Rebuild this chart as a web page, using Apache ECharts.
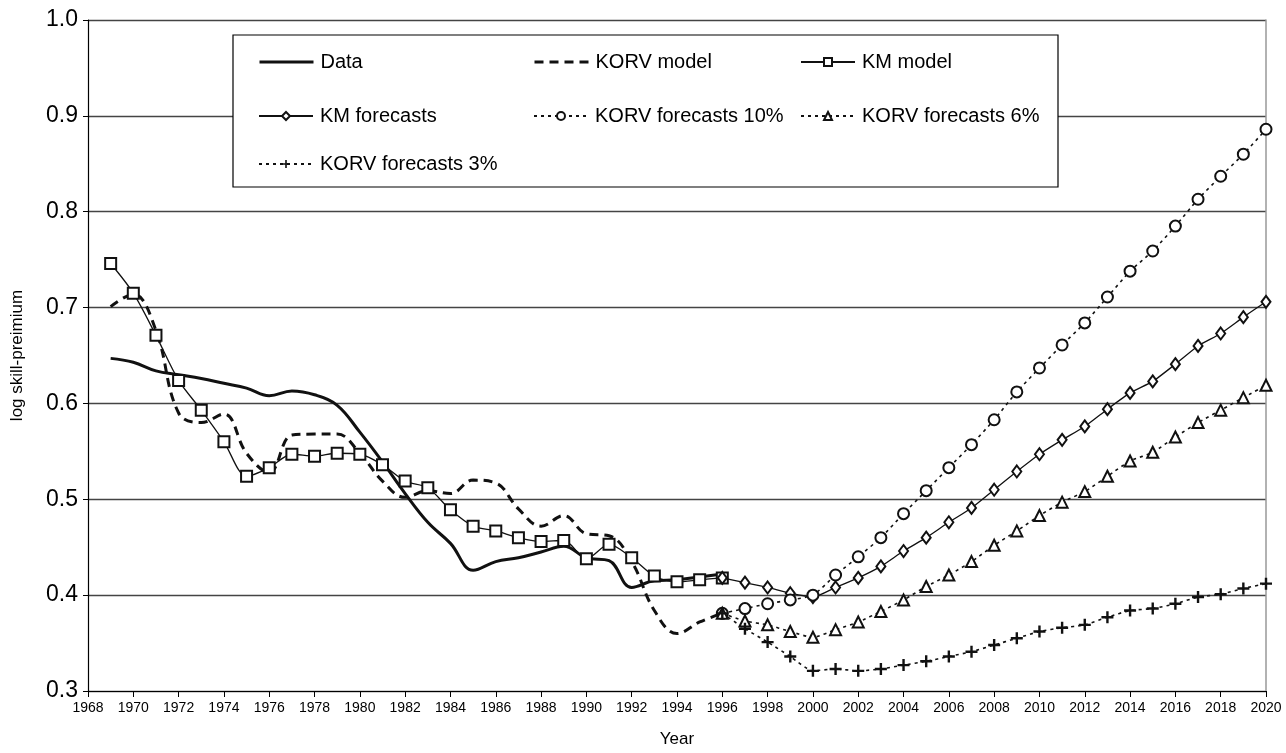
<!DOCTYPE html>
<html>
<head>
<meta charset="utf-8">
<script src="https://cdn.jsdelivr.net/npm/echarts@6/dist/echarts.min.js"></script>
<style>
  html, body { margin: 0; padding: 0; background: #fff; }
  #main { width: 1286px; height: 753px; }
</style>
</head>
<body>
<div id="main"></div>
<script>
// years
var histYears = [1969, 1970, 1971, 1972, 1973, 1974, 1975, 1976, 1977, 1978, 1979, 1980, 1981, 1982,
  1983, 1984, 1985, 1986, 1987, 1988, 1989, 1990, 1991, 1992, 1993, 1994, 1995, 1996];
var fcYears = [1996, 1997, 1998, 1999, 2000, 2001, 2002, 2003, 2004, 2005, 2006, 2007, 2008,
  2009, 2010, 2011, 2012, 2013, 2014, 2015, 2016, 2017, 2018, 2019, 2020];

// historical series
var dataVals = [0.647, 0.643, 0.634, 0.630, 0.626, 0.621, 0.616, 0.608, 0.613, 0.609, 0.598, 0.570, 0.539, 0.506,
  0.476, 0.454, 0.426, 0.435, 0.439, 0.445, 0.451, 0.439, 0.436, 0.408, 0.415, 0.416, 0.419, 0.422];
var korvModel = [0.701, 0.714, 0.676, 0.590, 0.580, 0.589, 0.548, 0.528, 0.567, 0.568, 0.568, 0.548, 0.519, 0.502,
  0.509, 0.506, 0.520, 0.517, 0.490, 0.472, 0.483, 0.464, 0.462, 0.435, 0.384, 0.360, 0.372, 0.381];
var kmModel = [0.746, 0.715, 0.671, 0.624, 0.593, 0.560, 0.524, 0.533, 0.547, 0.545, 0.548, 0.547, 0.536, 0.519,
  0.512, 0.489, 0.472, 0.467, 0.460, 0.456, 0.457, 0.438, 0.453, 0.439, 0.420, 0.414, 0.416, 0.418];

// forecasts
var kmFc = [0.418, 0.413, 0.408, 0.402, 0.398, 0.408, 0.418, 0.430, 0.446, 0.460, 0.476, 0.491, 0.510,
  0.529, 0.547, 0.562, 0.576, 0.594, 0.611, 0.623, 0.641, 0.660, 0.673, 0.690, 0.706];
var korv10 = [0.381, 0.386, 0.391, 0.395, 0.400, 0.421, 0.440, 0.460, 0.485, 0.509, 0.533, 0.557, 0.583,
  0.612, 0.637, 0.661, 0.684, 0.711, 0.738, 0.759, 0.785, 0.813, 0.837, 0.860, 0.886];
var korv6 = [0.381, 0.373, 0.369, 0.362, 0.356, 0.364, 0.372, 0.383, 0.395, 0.409, 0.421, 0.435, 0.452,
  0.467, 0.483, 0.497, 0.508, 0.524, 0.540, 0.549, 0.565, 0.580, 0.593, 0.606, 0.619];
var korv3 = [0.381, 0.365, 0.351, 0.336, 0.321, 0.323, 0.321, 0.323, 0.327, 0.331, 0.336, 0.341, 0.348,
  0.355, 0.362, 0.366, 0.369, 0.377, 0.384, 0.386, 0.391, 0.398, 0.401, 0.407, 0.412];

var names = ['Data', 'KORV model', 'KM model', 'KM forecasts',
  'KORV forecasts 10%', 'KORV forecasts 6%', 'KORV forecasts 3%'];

function pairs(xs, ys) {
  return xs.map(function (x, i) { return [x, ys[i]]; });
}

var font = 'Liberation Sans';
var ink = '#111';
var plusPath = 'path://M4,0H6V4H10V6H6V10H4V6H0V4H4Z';
var fcDash = [3, 4];

// legend slots: [name, left, rowCenter, thick line without symbol]
var legendSlots = [
  [names[0], 258, 63, true], [names[1], 533, 63, true], [names[2], 800, 63],
  [names[3], 258, 117], [names[4], 533, 117], [names[5], 800, 117],
  [names[6], 258, 165]
];

var legends = legendSlots.map(function (s) {
  var item = { name: s[0] };
  if (s[3]) {
    item.itemStyle = { opacity: 0 };
    item.lineStyle = { width: 3 };
  }
  return {
    data: [item],
    left: s[1],
    top: s[2] - 11,
    padding: 0,
    itemWidth: 54,
    itemHeight: 10,
    itemGap: 0,
    z: 10,
    textStyle: { fontFamily: font, fontSize: 20, color: '#000', padding: [0, 0, 0, 2] }
  };
});

function marker(extra) {
  var s = { color: ink, borderColor: ink, borderWidth: 1.5 };
  for (var k in extra) s[k] = extra[k];
  return s;
}

var option = {
  animation: false,
  backgroundColor: '#fff',
  grid: { left: 88, right: 20, top: 20, bottom: 62 },
  legend: legends,
  graphic: [{
    type: 'rect',
    z: 5,
    shape: { x: 233, y: 35, width: 825, height: 152 },
    style: { fill: '#fff', stroke: '#000', lineWidth: 1.2 }
  }],
  xAxis: {
    type: 'value',
    min: 1968,
    max: 2020,
    interval: 2,
    name: 'Year',
    nameLocation: 'middle',
    nameGap: 40,
    nameTextStyle: { fontFamily: font, fontSize: 17, color: '#000' },
    axisLine: { lineStyle: { color: '#000', width: 1.2 } },
    axisTick: { length: 6, lineStyle: { color: '#000' } },
    axisLabel: {
      fontFamily: font, fontSize: 14, color: '#000', margin: 10,
      formatter: function (v) { return String(v); }
    },
    splitLine: { show: false }
  },
  yAxis: [{
    type: 'value',
    min: 0.3,
    max: 1.0,
    interval: 0.1,
    name: 'log skill-preimium',
    nameLocation: 'middle',
    nameGap: 62,
    nameTextStyle: { fontFamily: font, fontSize: 17, color: '#000' },
    axisLine: { show: true, lineStyle: { color: '#000', width: 1.2 } },
    axisTick: { show: true, length: 5, lineStyle: { color: '#000' } },
    axisLabel: {
      fontFamily: font, fontSize: 23, color: '#000', margin: 10,
      formatter: function (v) { return v.toFixed(1); }
    },
    splitLine: { lineStyle: { color: '#444', width: 1.3 } }
  }, {
    type: 'value',
    position: 'right',
    min: 0.3,
    max: 1.0,
    interval: 0.1,
    axisLine: { show: true, lineStyle: { color: '#999', width: 1.5 } },
    axisTick: { show: false },
    axisLabel: { show: false },
    splitLine: { show: false }
  }],
  series: [{
    name: names[0],
    type: 'line',
    data: pairs(histYears, dataVals),
    smooth: 0.4,
    symbol: 'none',
    lineStyle: { color: ink, width: 3 },
    itemStyle: { color: ink },
    z: 3
  }, {
    name: names[1],
    type: 'line',
    data: pairs(histYears, korvModel),
    smooth: 0.4,
    symbol: 'none',
    lineStyle: { color: ink, width: 3, type: [9, 6] },
    itemStyle: { color: ink },
    z: 3
  }, {
    name: names[2],
    type: 'line',
    data: pairs(histYears, kmModel),
    smooth: 0.3,
    symbol: 'emptyRect',
    symbolSize: 11,
    lineStyle: { color: ink, width: 1.3 },
    itemStyle: marker({}),
    z: 4
  }, {
    name: names[3],
    type: 'line',
    data: pairs(fcYears, kmFc),
    smooth: 0.2,
    symbol: 'emptyDiamond',
    symbolSize: [9, 12],
    lineStyle: { color: ink, width: 1.3 },
    itemStyle: marker({}),
    z: 4
  }, {
    name: names[4],
    type: 'line',
    data: pairs(fcYears, korv10),
    smooth: 0.2,
    symbol: 'emptyCircle',
    symbolSize: 11,
    lineStyle: { color: ink, width: 1.6, type: fcDash },
    itemStyle: marker({}),
    z: 4
  }, {
    name: names[5],
    type: 'line',
    data: pairs(fcYears, korv6),
    smooth: 0.2,
    symbol: 'emptyTriangle',
    symbolSize: 11,
    lineStyle: { color: ink, width: 1.6, type: fcDash },
    itemStyle: marker({}),
    z: 4
  }, {
    name: names[6],
    type: 'line',
    data: pairs(fcYears, korv3),
    smooth: 0.2,
    symbol: plusPath,
    symbolSize: 12,
    lineStyle: { color: ink, width: 1.6, type: fcDash },
    itemStyle: marker({ borderWidth: 0 }),
    z: 4
  }]
};

var myChart = echarts.init(document.getElementById('main'));
myChart.setOption(option);
</script>
</body>
</html>
